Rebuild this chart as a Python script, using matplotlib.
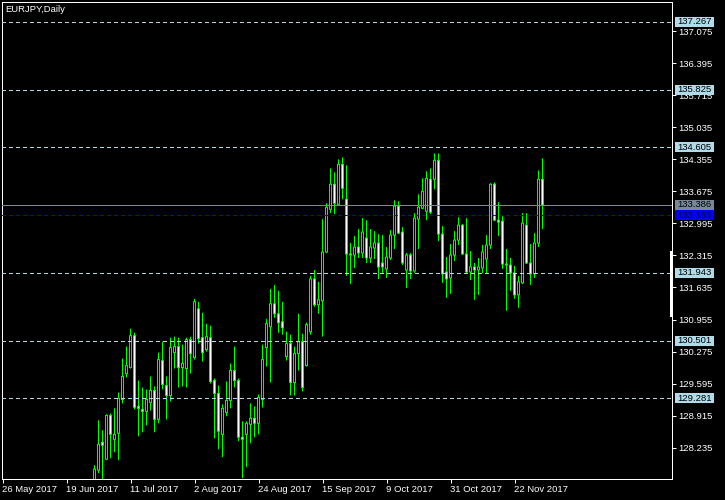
import matplotlib
matplotlib.use("Agg")
import matplotlib.pyplot as plt
import matplotlib.transforms as mtransforms
from matplotlib.patches import Rectangle
import numpy as np
import pandas as pd

plt.rcParams["font.family"] = ["Liberation Sans", "DejaVu Sans"]
plt.rcParams["lines.scale_dashes"] = False

symbol_title = "EURJPY,Daily"
bar_dates = pd.bdate_range("2017-05-26", "2017-12-01")
first_visible = "2017-06-28"

opens = [127.422, 127.760, 128.351, 127.992, 128.922, 128.415, 128.542, 129.260, 129.809, 129.936,
         130.612, 129.112, 129.049, 129.006, 129.197, 129.450, 128.837, 130.084, 129.556, 129.344,
         130.253, 130.380, 129.936, 129.915, 130.528, 130.147, 131.183, 130.570, 130.316, 130.570,
         129.661, 129.387, 128.520, 128.985, 129.239, 129.873, 129.661, 128.457, 128.520, 128.732,
         128.858, 128.753, 129.260, 130.359, 130.802, 131.288, 131.077, 130.908, 130.168, 130.443,
         129.619, 130.232, 130.485, 129.978, 130.697, 131.816, 131.267, 131.352, 132.387, 133.295,
         133.824, 133.401, 134.246, 133.507, 132.345, 132.323, 132.493, 132.366, 132.683, 132.260,
         132.471, 132.577, 132.154, 132.028, 132.260, 132.746, 133.359, 132.809, 132.007, 132.323,
         131.985, 133.084, 133.317, 133.253, 133.929, 133.929, 134.331, 132.767, 131.964, 131.838,
         132.323, 132.640, 132.957, 132.345, 131.964, 132.070, 132.007, 132.049, 132.239, 132.535,
         133.824, 133.063, 133.042, 132.133, 132.112, 131.943, 131.478, 131.732, 132.957, 132.154,
         131.922, 132.577, 133.929]
highs = [127.865, 128.816, 128.605, 128.943, 128.964, 129.070, 129.408, 130.126, 130.380, 130.760,
         130.676, 129.661, 129.513, 129.471, 129.746, 129.535, 130.253, 130.485, 129.746, 130.570,
         130.591, 130.570, 130.422, 130.570, 130.591, 131.394, 131.330, 131.098, 130.866, 130.823,
         129.704, 129.556, 129.154, 129.640, 130.021, 130.380, 129.704, 128.795, 128.795, 129.175,
         129.112, 129.366, 130.422, 130.971, 131.605, 131.690, 131.563, 131.330, 130.697, 130.633,
         130.380, 131.077, 130.654, 130.887, 131.880, 132.007, 131.753, 133.084, 133.422, 134.162,
         134.077, 134.352, 134.394, 134.225, 132.577, 132.725, 132.873, 133.105, 133.063, 132.873,
         132.831, 132.767, 132.746, 132.493, 132.852, 133.486, 133.464, 132.915, 132.366, 132.366,
         133.211, 133.612, 133.950, 134.098, 134.162, 134.479, 134.479, 132.936, 132.281, 132.556,
         132.831, 133.126, 132.978, 133.105, 132.408, 132.154, 132.260, 132.535, 132.746, 133.845,
         133.866, 133.443, 133.147, 132.450, 132.260, 132.091, 131.880, 133.211, 133.211, 132.556,
         132.788, 134.119, 134.373]
lows = [127.232, 127.696, 127.506, 127.971, 128.014, 128.141, 127.971, 129.175, 129.725, 129.915,
        129.049, 128.478, 128.563, 128.711, 129.028, 128.563, 128.753, 129.471, 128.837, 129.218,
        129.915, 129.513, 129.535, 129.513, 129.809, 130.105, 130.443, 130.063, 130.274, 129.598,
        128.436, 128.204, 128.035, 128.901, 129.070, 129.513, 128.373, 127.591, 127.823, 128.330,
        128.457, 128.520, 129.091, 129.957, 129.619, 130.992, 130.676, 130.633, 130.084, 129.344,
        129.344, 129.873, 129.429, 129.957, 130.633, 131.225, 131.077, 130.591, 132.366, 133.211,
        133.190, 133.380, 133.507, 131.880, 131.711, 132.049, 132.260, 132.260, 132.154, 132.154,
        132.239, 131.816, 131.943, 131.838, 132.218, 132.450, 132.767, 132.112, 131.626, 131.816,
        131.943, 132.450, 133.295, 133.063, 133.190, 133.718, 132.619, 131.732, 131.415, 131.499,
        132.197, 132.535, 132.323, 131.922, 131.795, 131.373, 131.478, 131.943, 131.922, 132.450,
        133.042, 132.725, 132.028, 131.140, 131.563, 131.394, 131.204, 131.711, 132.133, 131.690,
        131.838, 132.493, 132.873]
closes = [127.781, 128.309, 128.288, 128.922, 128.520, 128.520, 129.281, 129.746, 129.978, 130.612,
          129.091, 129.070, 129.006, 129.260, 129.450, 128.837, 130.105, 129.577, 129.344, 130.359,
          130.380, 129.936, 130.021, 130.528, 130.232, 131.330, 130.549, 130.253, 130.591, 129.640,
          129.387, 128.584, 129.070, 129.239, 129.873, 129.661, 128.457, 128.415, 128.753, 128.858,
          128.753, 129.302, 130.105, 130.866, 131.288, 131.077, 130.887, 130.781, 130.443, 129.619,
          130.232, 130.485, 129.513, 130.845, 131.816, 131.267, 131.373, 132.387, 133.338, 133.824,
          133.422, 134.246, 133.739, 132.345, 132.323, 132.493, 132.366, 132.809, 132.260, 132.493,
          132.577, 132.070, 132.070, 132.281, 132.746, 133.359, 132.788, 132.154, 132.323, 131.985,
          133.105, 133.338, 133.676, 133.950, 133.232, 134.331, 132.767, 131.922, 131.816, 132.323,
          132.640, 132.957, 132.345, 131.964, 132.070, 132.007, 132.070, 132.387, 132.535, 133.824,
          133.063, 133.021, 132.133, 132.112, 131.943, 131.478, 131.753, 133.000, 132.154, 131.922,
          132.577, 133.929, 133.386]

level_lines = [137.267, 135.825, 134.605, 131.943, 130.501, 129.281]
bid_price = 133.386
blue_price = 133.163
y_ticks = [128.235, 128.915, 129.595, 130.275, 130.955, 131.635, 132.315,
           132.995, 133.675, 134.355, 135.035, 135.715, 136.395, 137.075]
x_tick_dates = ["2017-05-26", "2017-06-19", "2017-07-11", "2017-08-02", "2017-08-24",
                "2017-09-15", "2017-10-09", "2017-10-31", "2017-11-22"]
x_tick_labels = ["26 May 2017", "19 Jun 2017", "11 Jul 2017", "2 Aug 2017", "24 Aug 2017",
                 "15 Sep 2017", "9 Oct 2017", "31 Oct 2017", "22 Nov 2017"]

LIME = "#00ff00"
LEVEL = "#b0dcea"
FS = 6.8
PX = 0.72  # one pixel in points at 100 dpi

fig = plt.figure(figsize=(7.25, 5), dpi=100, facecolor="black")
ax = fig.add_axes([2 / 725, 21 / 500, 670 / 725, 477 / 500])
ax.set_facecolor("black")
ymin, ymax = 127.572, 137.691
ax.set_xlim(-0.125, 167.375)
ax.set_ylim(ymin, ymax)
px_y = (ymax - ymin) / 477.0   # one pixel in price units
bar_step = 4.0                 # pixels per bar

start = bar_dates.get_loc(pd.Timestamp(first_visible))
xs = np.arange(start, start + len(opens))
o = np.array(opens); h = np.array(highs); l = np.array(lows); c = np.array(closes)

# wicks
wk = ax.vlines(xs, l, h, colors=LIME, linewidth=PX, zorder=2)
wk.set_snap(False)
# bodies: outer lime rectangle, then inner fill
bull = c > o
bottoms = np.minimum(o, c)
heights = np.abs(c - o)
outer = ax.bar(xs, heights + px_y, bottom=bottoms - px_y / 2, width=3 / bar_step,
               color=LIME, linewidth=0, zorder=3)
inner_h = heights - px_y
mask = inner_h > 0
inner = ax.bar(xs[mask], inner_h[mask], bottom=bottoms[mask] + px_y / 2, width=1 / bar_step,
               color=np.where(bull[mask], "black", "white"), linewidth=0, zorder=3.5)
for p in list(outer) + list(inner):
    p.set_snap(False)

# horizontal level lines
for v in level_lines:
    ax.axhline(v, color=LEVEL, linewidth=PX, dashes=(2.2, 2.2), antialiased=False, zorder=4)
ax.axhline(bid_price, color="#778899", linewidth=PX, antialiased=False, zorder=4)
ax.axhline(blue_price, color="#0000ff", linewidth=PX, dashes=(2.2, 2.2),
           antialiased=False, zorder=4)

# frame
for s in ax.spines.values():
    s.set_color("white")
    s.set_linewidth(PX)

# thicker part of the right scale border
trans = mtransforms.blended_transform_factory(ax.transAxes, ax.transData)
ax.add_patch(Rectangle((1 - 2.5 / 670, ymax - 315 * px_y), 3 / 670, 66 * px_y,
                       transform=trans, facecolor="white", edgecolor="none",
                       clip_on=False, zorder=5))

# y axis on right
ax.yaxis.tick_right()
ax.set_yticks(y_ticks)
ax.set_yticklabels([f"{v:.3f}" for v in y_ticks])
ax.tick_params(axis="y", colors="white", length=3, width=PX, pad=1.2, labelsize=FS)

# x axis
ax.set_xticks([bar_dates.get_loc(pd.Timestamp(d)) for d in x_tick_dates])
ax.set_xticklabels(x_tick_labels)
ax.tick_params(axis="x", colors="white", length=3, width=PX, pad=1.5, labelsize=FS)
for lbl in ax.get_xticklabels():
    lbl.set_horizontalalignment("left")

# price label boxes on right axis
box_h = 10 * px_y
box_x0 = 673 / 670
box_w = 39 / 670

def price_box(v, face, txtcolor):
    ax.add_patch(Rectangle((box_x0, v - box_h / 2), box_w, box_h, transform=trans,
                           facecolor=face, edgecolor="none", clip_on=False, zorder=6))
    ax.text(box_x0 + box_w / 2, v, f"{v:.3f}", transform=trans, ha="center",
            va="center", fontsize=FS, color=txtcolor, clip_on=False, zorder=7)

for v in level_lines:
    price_box(v, LEVEL, "black")
price_box(bid_price, "#778899", "black")
price_box(blue_price, "#0000ff", "#000040")

fig.text(5 / 725, 1 - 9.5 / 500, symbol_title, color="white", fontsize=FS,
         ha="left", va="center")

fig.savefig("out.png", dpi=100, facecolor="black")
